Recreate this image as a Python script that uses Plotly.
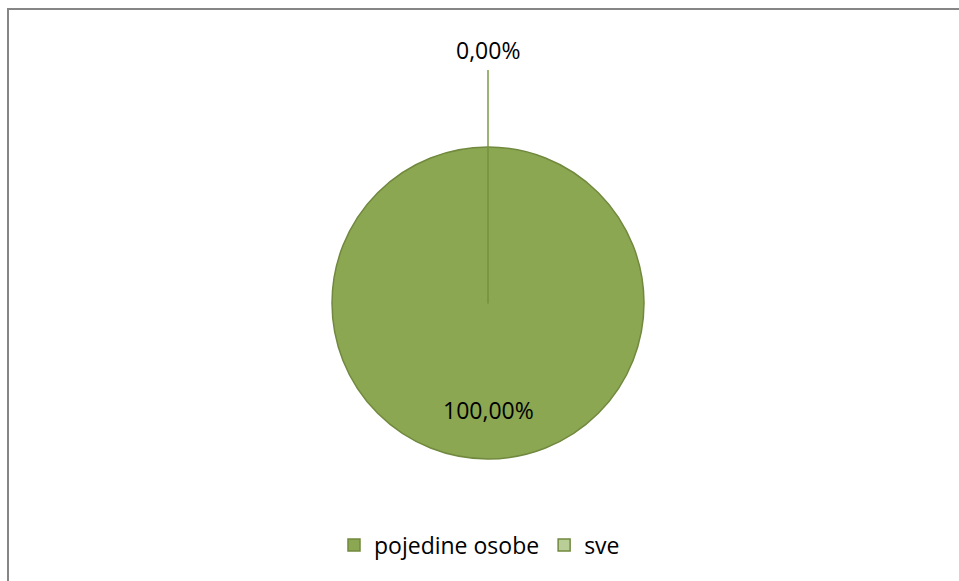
import plotly.graph_objects as go

labels = ["pojedine osobe", "sve"]
values = [100.0, 0.0]
fill_colors = ["#8BA752", "#B9CD96"]
edge_colors = ["#71893E", "#8BA752"]

W, H = 959, 581
cx, cy, r = 488, 303, 156
FONT = "Open Sans"
FS = 23

fig = go.Figure()
fig.add_trace(go.Pie(
    labels=labels,
    values=values,
    sort=False,
    direction="clockwise",
    rotation=0,
    textinfo="none",
    hoverinfo="label+percent",
    marker=dict(colors=fill_colors, line=dict(color=edge_colors[0], width=1.5)),
    domain=dict(x=[(cx - r) / W, (cx + r) / W], y=[1 - (cy + r) / H, 1 - (cy - r) / H]),
    showlegend=True,
))

total = sum(values)
def fmt(v):
    return f"{v / total * 100:.2f}".replace(".", ",") + "%"

annotations = [
    dict(x=cx / W, y=1 - 410 / H, xref="paper", yref="paper", text=fmt(values[0]),
         xanchor="center", yanchor="middle",
         showarrow=False, font=dict(family=FONT, size=FS, color="#000000")),
    dict(x=cx / W, y=1 - 50 / H, xref="paper", yref="paper", text=fmt(values[1]),
         xanchor="center", yanchor="middle",
         showarrow=False, font=dict(family=FONT, size=FS, color="#000000")),
]

shapes = [
    # chart border (extends past right and bottom edges)
    dict(type="rect", xref="paper", yref="paper",
         x0=8 / W, x1=(W + 20) / W, y0=-20 / H, y1=1 - 9 / H,
         line=dict(color="#868686", width=2), fillcolor="rgba(0,0,0,0)", layer="above"),
    # leader line for the 0% slice
    dict(type="line", xref="paper", yref="paper",
         x0=cx / W, x1=cx / W, y0=1 - cy / H, y1=1 - 70 / H,
         line=dict(color="#7A9A45", width=1.5), layer="above"),
]

fig.update_layout(
    width=W, height=H,
    margin=dict(l=0, r=0, t=0, b=0),
    paper_bgcolor="white",
    plot_bgcolor="white",
    font=dict(family=FONT, size=FS, color="#000000"),
    legend=dict(orientation="h", x=0.5, xanchor="center", y=1 - 545 / H, yanchor="middle",
                font=dict(family=FONT, size=FS, color="#000000"), itemwidth=30,
                traceorder="normal"),
    annotations=annotations,
    shapes=shapes,
)

fig.write_html(
    "out.html",
    config={"displayModeBar": False},
    post_script="document.body.style.margin='0';document.body.style.overflow='hidden';",
)
